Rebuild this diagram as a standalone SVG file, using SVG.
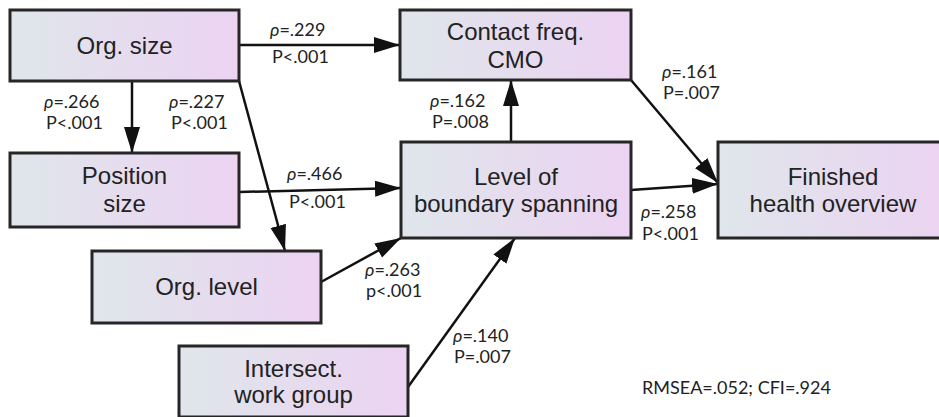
<svg xmlns="http://www.w3.org/2000/svg" width="939" height="417" viewBox="0 0 939 417">
<defs>
<linearGradient id="nodeFill" x1="0" y1="0" x2="1" y2="0">
<stop offset="0" stop-color="#dfe6eb"/>
<stop offset="1" stop-color="#ecd3f2"/>
</linearGradient>
<marker id="arrow" markerUnits="userSpaceOnUse" markerWidth="28" markerHeight="18" refX="26" refY="8" orient="auto">
<path d="M0,0 L26,8 L0,16 z" fill="#111"/>
</marker>
<style>
.node rect { fill: url(#nodeFill); stroke: #262626; stroke-width: 3; }
.node text { font-family: "Liberation Sans", Arial, sans-serif; font-size: 24px; fill: #222; text-anchor: middle; }
.edge { stroke: #111; stroke-width: 2.5; fill: none; marker-end: url(#arrow); }
.lbl { font-family: Lato, "Noto Sans", sans-serif; font-size: 18px; fill: #222; }
.rho { font-style: italic; }
</style>
</defs>
<rect width="939" height="417" fill="#ffffff"/>

<g id="connectors">
<path class="edge" d="M239,45 L400,45"/>
<path class="edge" d="M132,81 L132,153"/>
<path class="edge" d="M239,81 L285,251"/>
<path class="edge" d="M239,192 L401,188"/>
<path class="edge" d="M321,282 L401,238"/>
<path class="edge" d="M408,387 L515,238"/>
<path class="edge" d="M511,142 L511,80"/>
<path class="edge" d="M631,80 L718,183"/>
<path class="edge" d="M631,190 L718,184"/>
</g>

<g id="org-size" class="node">
<rect x="10" y="10" width="229" height="71"/>
<text x="124.5" y="54">Org. size</text>
</g>
<g id="contact-freq" class="node">
<rect x="400" y="10" width="231" height="70"/>
<text x="515.5" y="40">Contact freq.</text>
<text x="515.5" y="68">CMO</text>
</g>
<g id="position-size" class="node">
<rect x="10" y="153" width="229" height="74"/>
<text x="124.5" y="184">Position</text>
<text x="124.5" y="212">size</text>
</g>
<g id="level-boundary" class="node">
<rect x="401" y="142" width="230" height="96"/>
<text x="516" y="185">Level of</text>
<text x="516" y="212">boundary spanning</text>
</g>
<g id="finished-health" class="node">
<rect x="718" y="142" width="232" height="96"/>
<text x="833" y="185">Finished</text>
<text x="833" y="212">health overview</text>
</g>
<g id="org-level" class="node">
<rect x="92" y="251" width="229" height="72"/>
<text x="206.5" y="295">Org. level</text>
</g>
<g id="intersect" class="node">
<rect x="179" y="346" width="229" height="71"/>
<text x="293.5" y="377">Intersect.</text>
<text x="293.5" y="403">work group</text>
</g>

<g id="labels">
<text class="lbl" x="270" y="36"><tspan class="rho">ρ</tspan>=.229</text>
<text class="lbl" x="272" y="63">P&lt;.001</text>
<text class="lbl" x="44" y="108"><tspan class="rho">ρ</tspan>=.266</text>
<text class="lbl" x="46" y="129">P&lt;.001</text>
<text class="lbl" x="169" y="108"><tspan class="rho">ρ</tspan>=.227</text>
<text class="lbl" x="171" y="129">P&lt;.001</text>
<text class="lbl" x="287" y="180"><tspan class="rho">ρ</tspan>=.466</text>
<text class="lbl" x="289" y="208">P&lt;.001</text>
<text class="lbl" x="430" y="107"><tspan class="rho">ρ</tspan>=.162</text>
<text class="lbl" x="432" y="128">P=.008</text>
<text class="lbl" x="662" y="78"><tspan class="rho">ρ</tspan>=.161</text>
<text class="lbl" x="663" y="99">P=.007</text>
<text class="lbl" x="641" y="218"><tspan class="rho">ρ</tspan>=.258</text>
<text class="lbl" x="642" y="240">P&lt;.001</text>
<text class="lbl" x="365" y="276"><tspan class="rho">ρ</tspan>=.263</text>
<text class="lbl" x="366" y="297">p&lt;.001</text>
<text class="lbl" x="453" y="342"><tspan class="rho">ρ</tspan>=.140</text>
<text class="lbl" x="454" y="363">P=.007</text>
<text class="lbl" x="642" y="394">RMSEA=.052; CFI=.924</text>
</g>
</svg>
